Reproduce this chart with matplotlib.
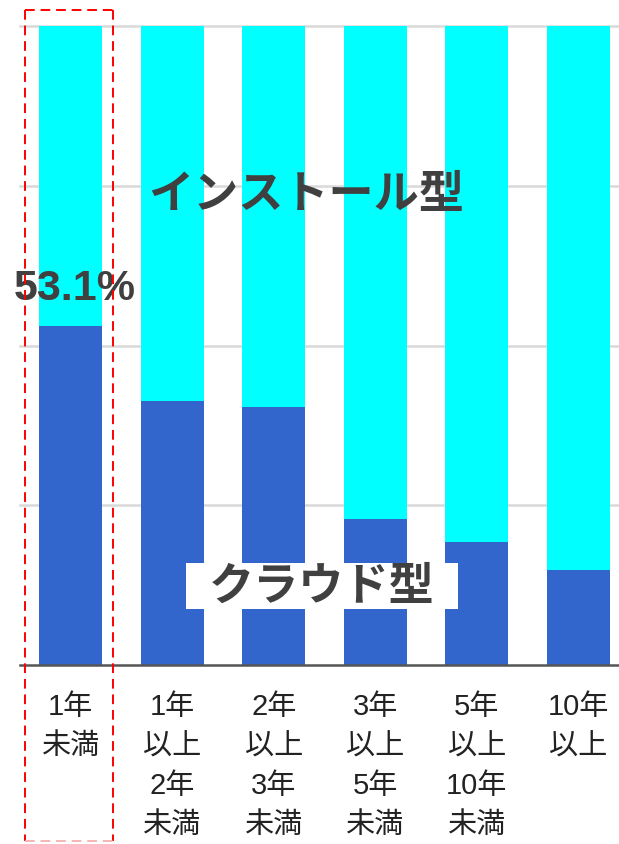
import matplotlib
matplotlib.use("Agg")
import matplotlib.pyplot as plt
from matplotlib.patches import Rectangle
from matplotlib.lines import Line2D

plt.rcParams['font.family'] = ['Liberation Sans', 'Noto Sans CJK JP', 'DejaVu Sans']

categories = ["1年\n未満", "1年\n以上\n2年\n未満", "2年\n以上\n3年\n未満",
              "3年\n以上\n5年\n未満", "5年\n以上\n10年\n未満", "10年\n以上"]
cloud = [53.1, 41.3, 40.3, 22.8, 19.3, 14.9]
install = [round(100 - v, 1) for v in cloud]
highlight_label = f"{cloud[0]}%"

W, H = 619, 844
fig = plt.figure(figsize=(W / 100, H / 100), dpi=100)
ax = fig.add_axes([20 / W, 1 - 665 / H, 1 - 20 / W, (665 - 26) / H])

x = list(range(len(categories)))
ax.set_xlim(-0.5, 5.4)
ax.set_ylim(0, 100)

for g in [25, 50, 75, 100]:
    ax.axhline(g, color='#d9d9d9', lw=1.8, zorder=0, clip_on=False)

ax.bar(x, cloud, width=0.62, color='#3366cc', zorder=2)
ax.bar(x, install, bottom=cloud, width=0.62, color='#00ffff', zorder=2)
ax.axhline(0, color='#555555', lw=1.8, zorder=4, clip_on=False)

for s in ax.spines.values():
    s.set_visible(False)
ax.set_yticks([])
ax.set_xticks(x)
ax.set_xticklabels(categories, fontsize=21, color='#222222', linespacing=1.52,
                   va='top')
ax.tick_params(axis='x', length=0, pad=20)

# annotations
ax.text(0.04, cloud[0] + 5.7, highlight_label, ha='center', va='center',
        fontsize=31, fontweight='bold', color='#404040', zorder=6)
ax.text(2.32, 73.6, "インストール型", ha='center', va='center',
        fontsize=32.5, fontweight='bold', color='#404040',
        family=['Noto Sans CJK JP'], zorder=6)
ax.add_patch(Rectangle((1.135, 8.75), 2.68, 7.15, facecolor='white',
                       edgecolor='none', zorder=5))
ax.text(2.475, 12.3, "クラウド型", ha='center', va='center',
        fontsize=32.5, fontweight='bold', color='#404040',
        family=['Noto Sans CJK JP'], zorder=6)

# red dashed highlight box (figure pixel coords)
def fx(px):
    return px / W

def fy(py):
    return 1 - py / H

l, r, t, b = 25, 113, 10, 841
for xs, ys, c in [((l, r), (t, t), '#ff0000'), ((l, l), (t, b), '#ff0000'),
                  ((r, r), (t, b), '#ff0000'), ((l, r), (b, b), '#f5b5b5')]:
    fig.add_artist(Line2D([fx(v) for v in xs], [fy(v) for v in ys], color=c,
                          lw=1.4, ls=(0, (5, 3)), zorder=10))

fig.savefig("out.png", dpi=100)
